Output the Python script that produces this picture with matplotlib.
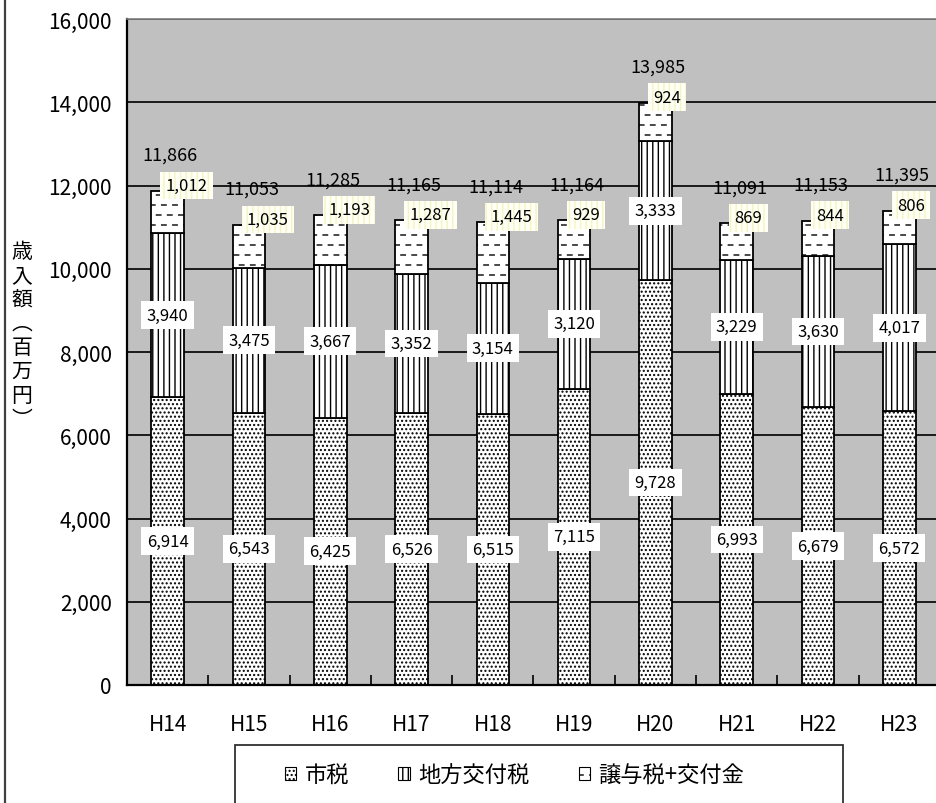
import numpy as np
import matplotlib
matplotlib.use("Agg")
import matplotlib.pyplot as plt
import matplotlib.hatch as mhatch
from matplotlib.path import Path
from matplotlib.patches import Patch, Rectangle
from matplotlib.lines import Line2D

# ---------------- data ----------------
years = ["H14", "H15", "H16", "H17", "H18", "H19", "H20", "H21", "H22", "H23"]
city_tax = [6914, 6543, 6425, 6526, 6515, 7115, 9728, 6993, 6679, 6572]
local_alloc_tax = [3940, 3475, 3667, 3352, 3154, 3120, 3333, 3229, 3630, 4017]
transfer_tax = [1012, 1035, 1193, 1287, 1445, 929, 924, 869, 844, 806]
series_names = ["市税", "地方交付税", "譲与税+交付金"]
y_label = "歳\n入\n額\n︵\n百\n万\n円\n︶"
y_ticks = [0, 2000, 4000, 6000, 8000, 10000, 12000, 14000, 16000]

# ---------------- custom dashed hatch (replaces '-' lines) ----------------
class DashHatch(mhatch.HatchPatternBase):
    def __init__(self, hatch, density):
        n = hatch.count('-')
        self.rows = 10 * n if n else 0
        self.cols = 9
        self.num_vertices = self.rows * self.cols * 2

    def set_vertices_and_codes(self, vertices, codes):
        k = 0
        for r in range(self.rows):
            yy = (r + 0.5) / self.rows
            off = 0.08 if r % 2 == 0 else 0.55
            for c in range(self.cols):
                x0 = (c + off) / self.cols
                vertices[k] = (x0, yy)
                vertices[k + 1] = (x0 + 0.4 / self.cols, yy)
                codes[k] = Path.MOVETO
                codes[k + 1] = Path.LINETO
                k += 2

mhatch._hatch_types = [DashHatch if t is mhatch.HorizontalHatch else t
                       for t in mhatch._hatch_types]

plt.rcParams['font.family'] = ['Noto Sans CJK JP', 'DejaVu Sans']
plt.rcParams['hatch.linewidth'] = 1.0

W, H = 937, 804
fig = plt.figure(figsize=(W / 100, H / 100), dpi=100)
fig.patch.set_facecolor('white')
ax = fig.add_axes([127 / W, (H - 686) / H, (940 - 127) / W, (686 - 20) / H])
ax.set_facecolor('#C0C0C0')

x = np.arange(len(years))
bw = 0.4
hatches = ['....', '|||', '-']
s1 = np.array(city_tax)
s2 = np.array(local_alloc_tax)
s3 = np.array(transfer_tax)
totals = s1 + s2 + s3

bottoms = [np.zeros(len(years)), s1, s1 + s2]
for vals, bot, hp in zip([s1, s2, s3], bottoms, hatches):
    ax.bar(x, vals, bw, bottom=bot, color='white', edgecolor='black',
           linewidth=1.3, hatch=hp, zorder=2)

ax.set_xlim(-0.5, 9.5)
ax.set_ylim(0, 16000)
ax.set_yticks(y_ticks)
ax.set_yticklabels([f"{v:,}" for v in y_ticks])
ax.set_xticks(x)
ax.set_xticklabels(years)
ax.set_xticks(np.arange(-0.5, 10, 1), minor=True)
ax.tick_params(axis='x', which='major', length=0, pad=20, labelsize=15)
ax.tick_params(axis='x', which='minor', direction='in', length=7, width=1.2)
ax.tick_params(axis='y', length=0, pad=11, labelsize=15)

ax.set_axisbelow(True)
ax.yaxis.grid(True, color='#1a1a1a', linewidth=1.4)
for side in ['left', 'bottom']:
    ax.spines[side].set_color('black')
    ax.spines[side].set_linewidth(1.6)
ax.spines['top'].set_color('#808080')
ax.spines['top'].set_linewidth(1.2)
ax.spines['right'].set_visible(False)

white_box = dict(boxstyle='square,pad=0.32', facecolor='white', edgecolor='none')
yellow_box = dict(boxstyle='square,pad=0.32', facecolor='#FFFFF6',
                  edgecolor='#F4F4C4', linewidth=0, hatch='|||')

for i in range(len(years)):
    ax.text(x[i], s1[i] / 2, f"{s1[i]:,}", ha='center', va='center',
            fontsize=12, bbox=white_box, zorder=5)
    ax.text(x[i], s1[i] + s2[i] / 2, f"{s2[i]:,}", ha='center', va='center',
            fontsize=12, bbox=white_box, zorder=5)
    ax.annotate(f"{s3[i]:,}", xy=(x[i], totals[i]), xytext=(-1.5, 4),
                textcoords='offset points', ha='left', va='center',
                fontsize=12, bbox=yellow_box, zorder=5)
    ax.annotate(f"{totals[i]:,}", xy=(x[i], totals[i]), xytext=(2, 26),
                textcoords='offset points', ha='center', va='center',
                fontsize=13, zorder=5)

# y label (vertical text)
fig.text(22 / W, 1 - 336 / H, y_label, ha='center', va='center',
         fontsize=15, linespacing=1.12)

# left border of the chart area
fig.add_artist(Line2D([5.5 / W, 5.5 / W], [0, 1], color='#404040', linewidth=1.6))

# legend frame
fig.add_artist(Rectangle((235 / W, -0.02), (843 - 235) / W, (H - 746) / H + 0.02,
                         transform=fig.transFigure, facecolor='white',
                         edgecolor='#303030', linewidth=1.3))
handles = [Patch(facecolor='white', edgecolor='black', linewidth=0.8, hatch=h)
           for h in hatches]
fig.legend(handles, series_names, loc='center left',
           bbox_to_anchor=(285 / W, 1 - 776 / H), ncol=3, frameon=False,
           fontsize=16, handlelength=0.5, handleheight=0.5, handletextpad=0.4,
           columnspacing=2.2, borderpad=0, borderaxespad=0)

fig.savefig("out.png", dpi=100)
